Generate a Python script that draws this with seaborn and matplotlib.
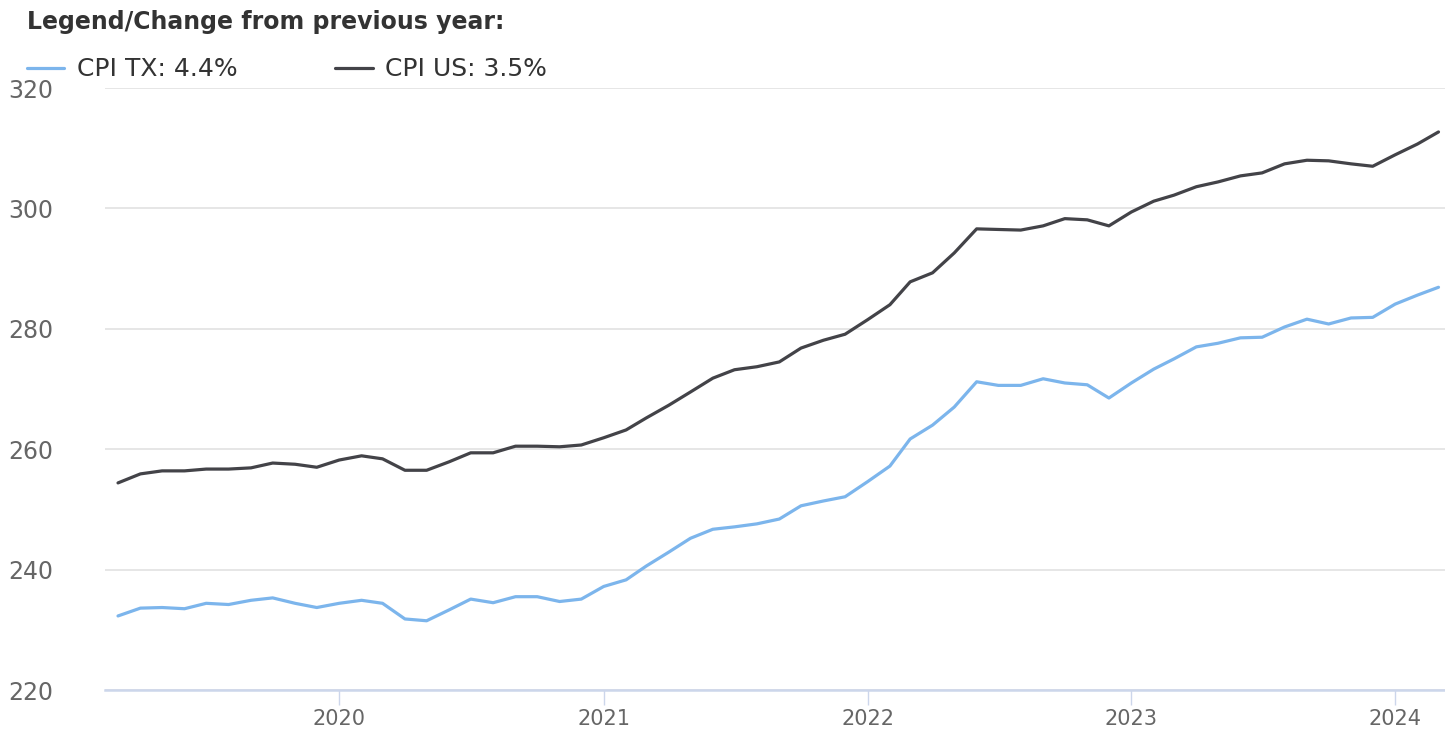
import pandas as pd
import seaborn as sns
import matplotlib.pyplot as plt
import matplotlib.dates as mdates
from matplotlib.lines import Line2D

# dados mensais, mar/2019 a mar/2024
months = pd.date_range('2019-03-01', '2024-03-01', freq='MS')

cpi_tx = [232.3, 233.6, 233.7, 233.5, 234.4, 234.2, 234.9, 235.3, 234.4, 233.7,
          234.4, 234.9, 234.4, 231.8, 231.5, 233.3, 235.1, 234.5, 235.5, 235.5, 234.7, 235.1,
          237.2, 238.3, 240.6, 242.9, 245.2, 246.7, 247.1, 247.6, 248.4, 250.6, 251.4, 252.1,
          254.6, 257.2, 261.7, 264.0, 267.0, 271.2, 270.6, 270.6, 271.7, 271.0, 270.7, 268.5,
          271.0, 273.3, 275.0, 277.0, 277.6, 278.5, 278.6, 280.3, 281.6, 280.8, 281.8, 281.9,
          284.1, 285.6, 286.9]

cpi_us = [254.4, 255.9, 256.4, 256.4, 256.7, 256.7, 256.9, 257.7, 257.5, 257.0,
          258.2, 258.9, 258.4, 256.5, 256.5, 257.9, 259.4, 259.4, 260.5, 260.5, 260.4, 260.7,
          261.9, 263.2, 265.2, 267.3, 269.5, 271.8, 273.2, 273.7, 274.5, 276.8, 278.1, 279.1,
          281.5, 284.0, 287.8, 289.3, 292.6, 296.6, 296.5, 296.4, 297.1, 298.3, 298.1, 297.1,
          299.4, 301.2, 302.2, 303.6, 304.4, 305.4, 305.9, 307.4, 308.0, 307.9, 307.4, 307.0,
          308.9, 310.7, 312.7]

series_names = ['CPI TX: 4.4%', 'CPI US: 3.5%']
legend_title = 'Legend/Change from previous year:'
y_ticks = [220, 240, 260, 280, 300, 320]

df = pd.DataFrame({'date': list(months) * 2,
                   'value': cpi_tx + cpi_us,
                   'series': [series_names[0]] * len(months) + [series_names[1]] * len(months)})

sns.set_style('white')
plt.rcParams['font.family'] = ['DejaVu Sans']

fig = plt.figure(figsize=(14.45, 7.29), dpi=100)
ax = fig.add_axes([105 / 1445, 39 / 729, 1 - 105 / 1445, 602 / 729])

sns.lineplot(data=df, x='date', y='value', hue='series',
             palette=['#7cb5ec', '#434348'], linewidth=2.3, ax=ax, legend=False)

ax.set_xlim(pd.Timestamp('2019-02-11'), pd.Timestamp('2024-03-10'))
ax.set_ylim(220, 320)
ax.set_yticks(y_ticks)
ax.xaxis.set_major_locator(mdates.YearLocator())
ax.xaxis.set_major_formatter(mdates.DateFormatter('%Y'))
ax.set_xlabel('')
ax.set_ylabel('')

ax.yaxis.grid(True, color='#e2e2e2', linewidth=1.2)
ax.xaxis.grid(False)
for side in ['top', 'right', 'left']:
    ax.spines[side].set_visible(False)
ax.spines['bottom'].set_color('#ccd6eb')
ax.spines['bottom'].set_linewidth(1.8)

ax.tick_params(axis='y', left=False, length=0, pad=37, labelsize=17, labelcolor='#666666')
ax.tick_params(axis='x', bottom=True, direction='out', length=11, width=1,
               color='#ccd6eb', pad=3, labelsize=15, labelcolor='#666666')

# legenda no topo
handles = [Line2D([], [], color='#7cb5ec', lw=2.3), Line2D([], [], color='#434348', lw=2.3)]
leg = fig.legend(handles, series_names, loc='upper left', bbox_to_anchor=(0.01, 1.004),
                 ncol=2, frameon=False, fontsize=18, title=legend_title,
                 title_fontproperties={'weight': 'bold', 'size': 17},
                 alignment='left', handlelength=1.5, handletextpad=0.5,
                 columnspacing=3.9, borderpad=0.0, labelspacing=0.95)
for t in leg.get_texts():
    t.set_color('#333333')
leg.get_title().set_color('#333333')

fig.savefig('out.png', dpi=100)
